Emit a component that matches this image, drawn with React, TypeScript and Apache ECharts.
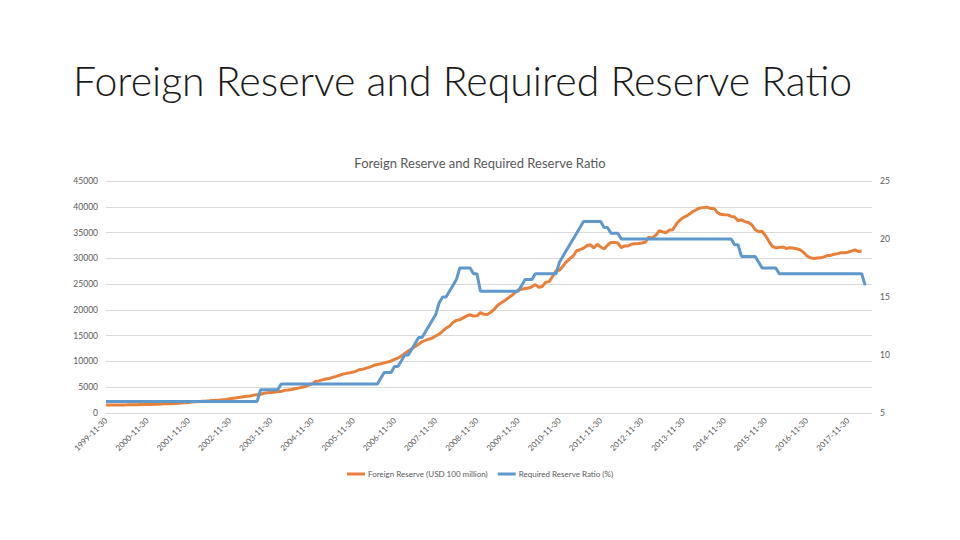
import React, { useEffect, useRef } from "react";
import * as echarts from "echarts";

// Monthly month-end categories from 1999-11 through 2018-06
const startYear = 1999;
const startMonth = 11;
const monthCount = 224;

// Foreign Reserve (USD 100 million), monthly
const reserve1999 = [1540, 1547];
const reserve2000 = [1566, 1570, 1568, 1573, 1580, 1589, 1600, 1610, 1627, 1640, 1650, 1656];
const reserve2001 = [1683, 1694, 1758, 1776, 1800, 1800, 1845, 1900, 1950, 2002, 2050, 2122];
const reserve2002 = [2160, 2200, 2280, 2320, 2370, 2427, 2460, 2520, 2585, 2640, 2745, 2864];
const reserve2003 = [2950, 3050, 3160, 3260, 3300, 3465, 3560, 3650, 3837, 3920, 3990, 4033];
const reserve2004 = [4150, 4190, 4400, 4470, 4550, 4707, 4830, 4980, 5145, 5420, 5640, 6099];
const reserve2005 = [6236, 6426, 6591, 6702, 6910, 7110, 7327, 7533, 7690, 7800, 7940, 8189];
const reserve2006 = [8450, 8536, 8751, 8950, 9250, 9411, 9545, 9720, 9879, 10096, 10388, 10663];
const reserve2007 = [11046, 11573, 12020, 12466, 12926, 13326, 13852, 14086, 14336, 14545, 14968, 15282];
const reserve2008 = [15898, 16471, 16822, 17566, 17969, 18088, 18452, 18841, 19055, 18793, 18849, 19460];
const reserve2009 = [19134, 19121, 19537, 20089, 20895, 21316, 21750, 22257, 22726, 23283, 23873, 23992];
const reserve2010 = [24152, 24245, 24471, 24905, 24395, 24543, 25380, 25480, 26483, 27609, 27678, 28473];
const reserve2011 = [29317, 29914, 30447, 31467, 31663, 31975, 32453, 32625, 32017, 32738, 32209, 31811];
const reserve2012 = [32536, 33096, 33050, 32989, 32061, 32400, 32400, 32729, 32850, 32874, 32977, 33116];
const reserve2013 = [34100, 33954, 34426, 35345, 35148, 34967, 35478, 35530, 36627, 37367, 37894, 38213];
const reserve2014 = [38666, 39137, 39480, 39788, 39838, 39932, 39662, 39688, 38877, 38529, 38473, 38430];
const reserve2015 = [38134, 38015, 37300, 37481, 37111, 36938, 36513, 35574, 35141, 35255, 34383, 33304];
const reserve2016 = [32309, 32023, 32126, 32197, 31917, 32052, 32011, 31852, 31664, 31206, 30516, 30105];
const reserve2017 = [29982, 30051, 30091, 30295, 30536, 30568, 30807, 30915, 31085, 31092, 31193, 31399];
const reserve2018 = [31615, 31345, 31428, null, null, null];

// Required Reserve Ratio (%), monthly
const ratio1999 = [6, 6];
const ratio2000 = [6, 6, 6, 6, 6, 6, 6, 6, 6, 6, 6, 6];
const ratio2001 = [6, 6, 6, 6, 6, 6, 6, 6, 6, 6, 6, 6];
const ratio2002 = [6, 6, 6, 6, 6, 6, 6, 6, 6, 6, 6, 6];
const ratio2003 = [6, 6, 6, 6, 6, 6, 6, 7, 7, 7, 7, 7];
const ratio2004 = [7, 7.5, 7.5, 7.5, 7.5, 7.5, 7.5, 7.5, 7.5, 7.5, 7.5, 7.5];
const ratio2005 = [7.5, 7.5, 7.5, 7.5, 7.5, 7.5, 7.5, 7.5, 7.5, 7.5, 7.5, 7.5];
const ratio2006 = [7.5, 7.5, 7.5, 7.5, 7.5, 7.5, 8, 8.5, 8.5, 8.5, 9, 9];
const ratio2007 = [9.5, 10, 10, 10.5, 11, 11.5, 11.5, 12, 12.5, 13, 13.5, 14.5];
const ratio2008 = [15, 15, 15.5, 16, 16.5, 17.5, 17.5, 17.5, 17.5, 17, 17, 15.5];
const ratio2009 = [15.5, 15.5, 15.5, 15.5, 15.5, 15.5, 15.5, 15.5, 15.5, 15.5, 15.5, 16];
const ratio2010 = [16.5, 16.5, 16.5, 17, 17, 17, 17, 17, 17, 17, 18, 18.5];
const ratio2011 = [19, 19.5, 20, 20.5, 21, 21.5, 21.5, 21.5, 21.5, 21.5, 21.5, 21];
const ratio2012 = [21, 20.5, 20.5, 20.5, 20, 20, 20, 20, 20, 20, 20, 20];
const ratio2013 = [20, 20, 20, 20, 20, 20, 20, 20, 20, 20, 20, 20];
const ratio2014 = [20, 20, 20, 20, 20, 20, 20, 20, 20, 20, 20, 20];
const ratio2015 = [20, 19.5, 19.5, 18.5, 18.5, 18.5, 18.5, 18.5, 18, 17.5, 17.5, 17.5];
const ratio2016 = [17.5, 17.5, 17, 17, 17, 17, 17, 17, 17, 17, 17, 17];
const ratio2017 = [17, 17, 17, 17, 17, 17, 17, 17, 17, 17, 17, 17];
const ratio2018 = [17, 17, 17, 16, null, null];

const reserveValues = [
  ...reserve1999, ...reserve2000, ...reserve2001, ...reserve2002, ...reserve2003,
  ...reserve2004, ...reserve2005, ...reserve2006, ...reserve2007, ...reserve2008,
  ...reserve2009, ...reserve2010, ...reserve2011, ...reserve2012, ...reserve2013,
  ...reserve2014, ...reserve2015, ...reserve2016, ...reserve2017, ...reserve2018,
];
const ratioValues = [
  ...ratio1999, ...ratio2000, ...ratio2001, ...ratio2002, ...ratio2003,
  ...ratio2004, ...ratio2005, ...ratio2006, ...ratio2007, ...ratio2008,
  ...ratio2009, ...ratio2010, ...ratio2011, ...ratio2012, ...ratio2013,
  ...ratio2014, ...ratio2015, ...ratio2016, ...ratio2017, ...ratio2018,
];

const leftTicks = { min: 0, max: 45000, interval: 5000 };
const rightTicks = { min: 5, max: 25, interval: 5 };

const pageTitle = "Foreign Reserve and Required Reserve Ratio";
const chartTitle = "Foreign Reserve and Required Reserve Ratio";
const reserveName = "Foreign Reserve (USD 100 million)";
const ratioName = "Required Reserve Ratio (%)";

function monthEnd(y: number, m: number): string {
  const d = new Date(Date.UTC(y, m, 0)).getUTCDate();
  return `${y}-${String(m).padStart(2, "0")}-${String(d).padStart(2, "0")}`;
}

const categories: string[] = [];
for (let i = 0; i < monthCount; i++) {
  const t = startYear * 12 + (startMonth - 1) + i;
  categories.push(monthEnd(Math.floor(t / 12), (t % 12) + 1));
}

const FONT = "Lato, 'Noto Sans', sans-serif";
const GRAY = "#595959";

export default function App() {
  const ref = useRef<HTMLDivElement>(null);
  useEffect(() => {
    if (!ref.current) return;
    const chart = echarts.init(ref.current, undefined, { renderer: "svg" });
    chart.setOption({
      animation: false,
      backgroundColor: "#ffffff",
      textStyle: { fontFamily: FONT },
      title: [
        {
          text: pageTitle,
          left: 68,
          top: 55,
          textStyle: { fontFamily: FONT, fontWeight: 300, fontSize: 41, color: "#1a1a1a" },
        },
        {
          text: chartTitle,
          left: "center",
          top: 151,
          textStyle: { fontFamily: FONT, fontWeight: "normal", fontSize: 13, color: GRAY },
        },
      ],
      legend: {
        left: "center",
        top: 465,
        icon: "rect",
        itemWidth: 18,
        itemHeight: 3,
        itemGap: 10,
        textStyle: { fontFamily: FONT, fontSize: 8, color: GRAY, padding: [0, 0, 0, -2] },
        data: [reserveName, ratioName],
      },
      grid: { left: 106, right: 88, top: 181, bottom: 127, containLabel: false },
      xAxis: {
        type: "category",
        data: categories,
        boundaryGap: false,
        axisLine: { show: true, lineStyle: { color: "#D9D9D9", width: 1 } },
        axisTick: { show: false },
        axisLabel: {
          interval: 11,
          rotate: 45,
          fontSize: 8,
          color: GRAY,
          margin: 6,
          fontFamily: FONT,
        },
        splitLine: { show: false },
      },
      yAxis: [
        {
          type: "value",
          min: leftTicks.min,
          max: leftTicks.max,
          interval: leftTicks.interval,
          axisLine: { show: false },
          axisTick: { show: false },
          axisLabel: {
            fontSize: 8.5,
            color: GRAY,
            margin: 8,
            fontFamily: FONT,
            formatter: (v: number) => String(v),
          },
          splitLine: { show: true, lineStyle: { color: "#D9D9D9", width: 1 } },
        },
        {
          type: "value",
          min: rightTicks.min,
          max: rightTicks.max,
          interval: rightTicks.interval,
          position: "right",
          axisLine: { show: false },
          axisTick: { show: false },
          axisLabel: {
            fontSize: 8.5,
            color: GRAY,
            margin: 8,
            fontFamily: FONT,
            formatter: (v: number) => String(v),
          },
          splitLine: { show: false },
        },
      ],
      series: [
        {
          name: reserveName,
          type: "line",
          yAxisIndex: 0,
          data: reserveValues,
          showSymbol: false,
          symbol: "none",
          color: "#E8803A",
          lineStyle: { width: 3, color: "#E8803A" },
        },
        {
          name: ratioName,
          type: "line",
          yAxisIndex: 1,
          data: ratioValues,
          showSymbol: false,
          symbol: "none",
          color: "#5E98CD",
          lineStyle: { width: 3, color: "#5E98CD" },
        },
      ],
    });
    return () => chart.dispose();
  }, []);
  return (
    <div
      ref={ref}
      style={{ position: "fixed", left: 0, top: 0, width: 960, height: 540, background: "#fff" }}
    />
  );
}
